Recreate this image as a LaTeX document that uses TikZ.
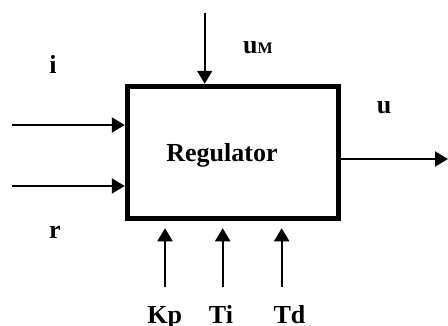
\documentclass[tikz,border=0pt]{standalone}
\usepackage{fontspec}
\setmainfont{Liberation Serif}
\usetikzlibrary{arrows.meta}
\begin{document}
\begin{tikzpicture}[x=1pt,y=-1pt,
  lbl/.style={font=\bfseries\fontsize{26}{26}\selectfont, inner sep=0pt, anchor=base},
  sig/.style={line width=2pt, -{Triangle[length=13pt,width=15pt]}},
  blk/.style={draw, line width=5.5pt, minimum width=211pt, minimum height=132pt, inner sep=0pt}]
\useasboundingbox (0,0) rectangle (448,325);
\node[blk] (box) at (233,152.5) {};
\node[lbl] (reg) at (222,161) {Regulator};
% free ends
\coordinate (istart) at (12,125);
\coordinate (rstart) at (12,186);
\coordinate (umstart) at (204.7,13);
\coordinate (uend) at (448,159);
\coordinate (kpstart) at (165,287);
\coordinate (tistart) at (222.7,287);
\coordinate (tdstart) at (281.7,287);
% connectors
\draw[sig] (istart) -- (istart -| box.west);
\draw[sig] (rstart) -- (rstart -| box.west);
\draw[sig] (umstart) -- (umstart |- box.north);
\draw[sig] (box.east |- uend) -- (uend);
\draw[sig, shorten >=7pt] (kpstart) -- (kpstart |- box.south);
\draw[sig, shorten >=7pt] (tistart) -- (tistart |- box.south);
\draw[sig, shorten >=7pt] (tdstart) -- (tdstart |- box.south);
% labels
\node[lbl] (li) at (53,73) {i};
\node[lbl] (lr) at (55,238) {r};
\node[lbl] (lum) at (258,53) {u{\fontsize{16}{16}\selectfont M}};
\node[lbl] (lu) at (384,113) {u};
\node[lbl] (lkp) at (164.7,323) {Kp};
\node[lbl] (lti) at (221,323) {Ti};
\node[lbl] (ltd) at (289.5,323) {Td};
\end{tikzpicture}
\end{document}
